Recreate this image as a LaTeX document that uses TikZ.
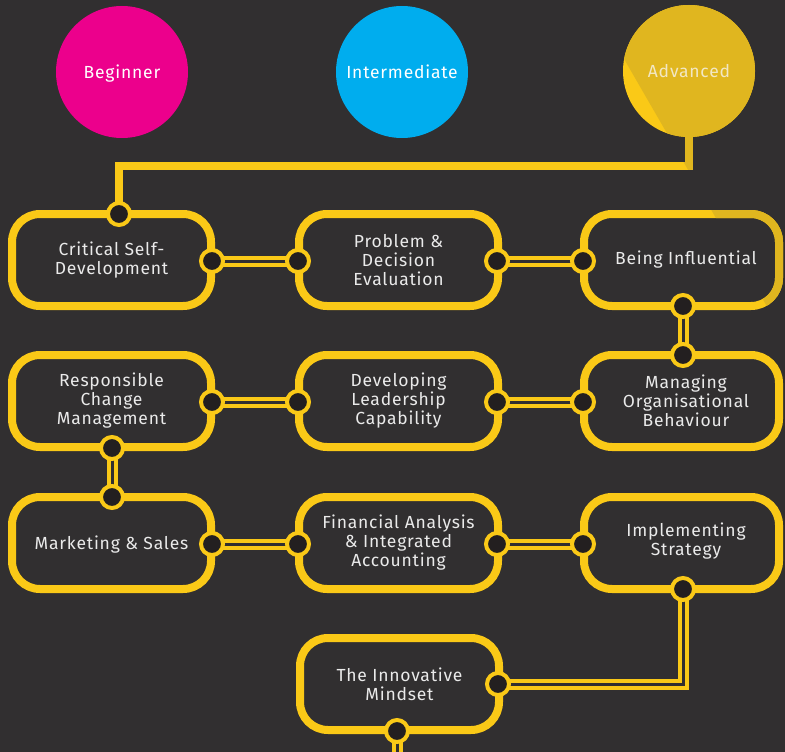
\documentclass[tikz,border=0pt]{standalone}
\usepackage{fontspec}
\setmainfont[LetterSpace=4.5]{Fira Sans}
\usetikzlibrary{calc}
\definecolor{bgc}{HTML}{312F30}
\definecolor{ylw}{HTML}{FAC917}
\definecolor{gld}{HTML}{E0B61F}
\definecolor{dotc}{HTML}{231F20}
\definecolor{mag}{HTML}{EC008C}
\definecolor{cyn}{HTML}{00ADEE}
\definecolor{txt}{HTML}{EAEAEA}
\definecolor{advtxt}{HTML}{F2E7C4}
\begin{document}
\begin{tikzpicture}[x=1pt,y=-1pt,
 level/.style={circle, minimum size=132pt, inner sep=0pt, text height=12.5pt, text depth=0pt,
   font=\fontsize{17.5}{19}\selectfont, text=white},
 boxtext/.style={align=center, text=txt, font=\fontsize{17.5}{19}\selectfont, inner sep=0pt},
 box/.style={draw=ylw, line width=8pt, rounded corners=28pt, minimum height=92pt, inner sep=0pt, boxtext},
 dot/.style={circle, fill=dotc, draw=ylw, line width=4pt, minimum size=22pt, inner sep=0pt},
 link/.style={draw=ylw, line width=4pt, double=bgc, double distance=3pt},
 topline/.style={line width=8pt}]
\fill[bgc] (0,0) rectangle (785,752);
\useasboundingbox (0,0) rectangle (785,752);

% level circles
\node[level, fill=mag] (beg) at (122,72) {Beginner};
\node[level, fill=cyn] (int) at (402,72) {Intermediate};
\node[level, fill=ylw] (adv) at (689,71) {};

% boxes
\node[box, minimum width=199pt] (crit) at (111.5,260) {Critical Self-\\Development};
\node[box, minimum width=199pt] (prob) at (398.5,260) {Problem \&\\Decision\\Evaluation};
\node[box, minimum width=195pt, label={[boxtext, xshift=4.5pt]center:Being Influential}] (infl) at (681.5,260) {};
\node[box, minimum width=199pt] (resp) at (111.5,401) {Responsible\\Change\\Management};
\node[box, minimum width=199pt] (lead) at (398.5,401) {Developing\\Leadership\\Capability};
\node[box, minimum width=195pt, label={[boxtext, xshift=4.5pt]center:{Managing\\Organisational\\Behaviour}}] (org) at (681.5,401) {};
\node[box, minimum width=199pt, label={[boxtext, yshift=-2pt]center:Marketing \& Sales}] (mkt) at (111.5,543) {};
\node[box, minimum width=199pt] (fin) at (398.5,543) {Financial Analysis\\\& Integrated\\Accounting};
\node[box, minimum width=195pt, label={[boxtext, xshift=4.5pt, yshift=2pt]center:{Implementing\\Strategy}}] (strat) at (681.5,543) {};
\node[box, minimum width=199pt] (innov) at (399.5,684) {The Innovative\\Mindset};

% dot positions
\coordinate (dCt) at (119,214);
\coordinate (bend) at (119,166);
\coordinate (dCr) at (212,261);
\coordinate (dPl) at (298,261);
\coordinate (dPr) at (497,261);
\coordinate (dBl) at (583,261);
\coordinate (dBb) at (683,306);
\coordinate (dMt) at (683,355);
\coordinate (dMl) at (583,402);
\coordinate (dDr) at (497,402);
\coordinate (dDl) at (298,402);
\coordinate (dRr) at (212,402);
\coordinate (dRb) at (112,448);
\coordinate (dKt) at (112,497);
\coordinate (dKr) at (212,544);
\coordinate (dFl) at (298,544);
\coordinate (dFr) at (497,544);
\coordinate (dIl) at (583,544);
\coordinate (dIb) at (683,589);
\coordinate (dNr) at (498,684);
\coordinate (dNb) at (397,731);
\coordinate (endb) at (397,760);

% connectors
\draw[topline, draw=ylw] (adv.south) |- (bend) -- (dCt);
\draw[link] (dCr) -- (dPl);
\draw[link] (dPr) -- (dBl);
\draw[link] (dBb) -- (dMt);
\draw[link] (dMl) -- (dDr);
\draw[link] (dDl) -- (dRr);
\draw[link] (dRb) -- (dKt);
\draw[link] (dKr) -- (dFl);
\draw[link] (dFr) -- (dIl);
\draw[link] (dIb) |- (dNr);
\draw[link] (dNb) -- (endb);

% darker diagonal shade
\begin{scope}
\clip (590,0) -- (821,400) -- (900,400) -- (900,0) -- cycle;
\fill[gld] (adv.center) circle[radius=66pt];
\draw[topline, draw=gld] (adv.south) |- (bend) -- (dCt);
\draw[gld, line width=8pt, rounded corners=28pt] (584,214) rectangle (779,306);
\end{scope}
\node[level, text=advtxt] (advlabel) at (adv) {Advanced};

% dots
\foreach \p in {dCt,dCr,dPl,dPr,dBl,dBb,dMt,dMl,dDr,dDl,dRr,dRb,dKt,dKr,dFl,dFr,dIl,dIb,dNr,dNb}
  \node[dot] (n\p) at (\p) {};
\end{tikzpicture}
\end{document}
